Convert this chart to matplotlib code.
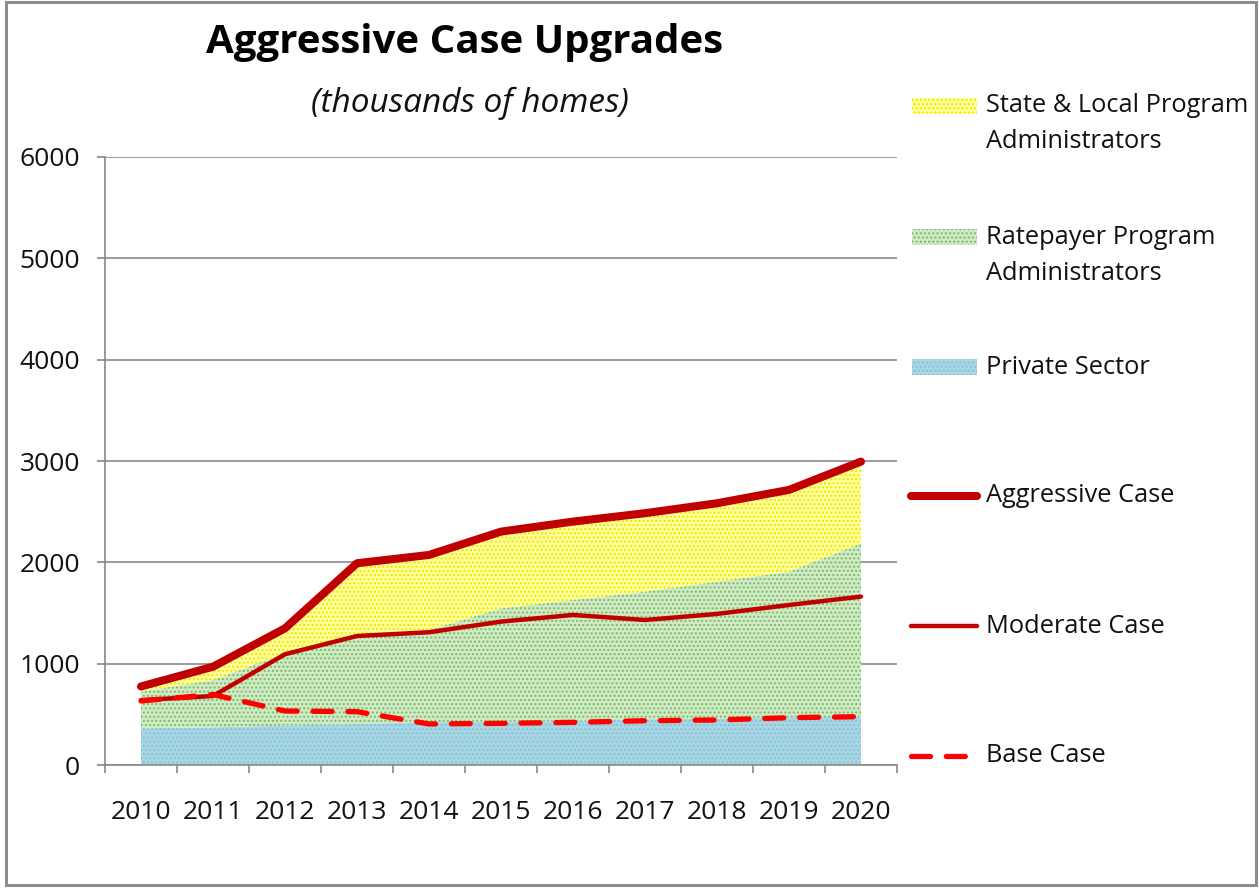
import numpy as np
import matplotlib
matplotlib.use("Agg")
import matplotlib.pyplot as plt
from matplotlib.patches import Rectangle
from matplotlib.lines import Line2D

plt.rcParams['font.family'] = ['Open Sans', 'DejaVu Sans']
plt.rcParams['hatch.linewidth'] = 1.0

# data (thousands of homes)
years = ['2010', '2011', '2012', '2013', '2014', '2015', '2016', '2017', '2018', '2019', '2020']
private = [362, 372, 388, 405, 421, 428, 434, 451, 457, 471, 477]
ratepayer = [362, 467, 715, 878, 912, 1119, 1195, 1260, 1353, 1437, 1711]
state_local = [51, 131, 246, 708, 740, 756, 773, 774, 773, 807, 806]
aggressive = [775, 970, 1349, 1991, 2073, 2303, 2402, 2485, 2583, 2715, 2994]
moderate = [640, 681, 1093, 1273, 1310, 1415, 1481, 1431, 1491, 1579, 1662]
base = [632, 695, 533, 526, 405, 411, 421, 437, 444, 467, 477]
yticks = [0, 1000, 2000, 3000, 4000, 5000, 6000]

W, H = 1259, 888
fig = plt.figure(figsize=(W / 100, H / 100), dpi=100)


def fx(x):
    return x / W


def fy(y):
    return 1 - y / H


ax = fig.add_axes([fx(105), fy(765), fx(897) - fx(105), fy(157) - fy(765)])

x = np.arange(len(years))
p = np.array(private)
r = p + np.array(ratepayer)
s = r + np.array(state_local)

# stacked hatched areas
blue_face, blue_dot = '#a8d6e4', '#86c2d6'
green_face, green_dot = '#d2eac6', '#74bd64'
yellow_face, yellow_dot = '#ffff9c', '#eee600'
ax.fill_between(x, 0, p, facecolor=blue_face, edgecolor=blue_dot, hatch='....', lw=0, zorder=2)
ax.fill_between(x, p, r, facecolor=green_face, edgecolor=green_dot, hatch='....', lw=0, zorder=2)
ax.fill_between(x, r, s, facecolor=yellow_face, edgecolor=yellow_dot, hatch='....', lw=0, zorder=2)

# scenario lines
agg_style = dict(color='#c00000', lw=5.8, solid_capstyle='round')
mod_style = dict(color='#c00000', lw=3.2, solid_capstyle='round')
base_style = dict(color='#ff0000', lw=3.8, dashes=(3.6, 3.0), dash_capstyle='round')
ax.plot(x, moderate, zorder=4, **mod_style)
ax.plot(x, base, zorder=5, **base_style)
ax.plot(x, aggressive, zorder=6, **agg_style)

ax.set_xlim(-0.5, len(years) - 0.5)
ax.set_ylim(0, 6000)
ax.set_yticks(yticks)
ax.set_xticks(x)
ax.set_xticklabels(years)
ax.set_xticks(np.arange(len(years) + 1) - 0.5, minor=True)
ax.tick_params(axis='x', which='major', length=0, pad=25, labelsize=19, labelcolor='#111111')
ax.tick_params(axis='x', which='minor', length=6, width=1.2, color='#888888', direction='out')
ax.tick_params(axis='y', length=6, width=1.2, color='#888888', pad=12, labelsize=19, labelcolor='#111111')

ax.set_axisbelow(True)
ax.grid(axis='y', color='#8a8a8a', lw=1.2)
for side in ['top', 'right']:
    ax.spines[side].set_visible(False)
for side in ['left', 'bottom']:
    ax.spines[side].set_color('#888888')
    ax.spines[side].set_linewidth(1.2)

# titles
fig.text(fx(465), fy(43), 'Aggressive Case Upgrades', ha='center', va='center',
         fontsize=29, fontweight='bold', color='#000000')
fig.text(fx(470), fy(103), '(thousands of homes)', ha='center', va='center',
         fontsize=24, style='italic', color='#111111')

# legend drawn at the right
leg_font = 18.3
patch_rows = [
    (106, yellow_face, yellow_dot, ['State & Local Program', 'Administrators']),
    (237, green_face, green_dot, ['Ratepayer Program', 'Administrators']),
    (367, blue_face, blue_dot, ['Private Sector']),
]
for yc, face, dot, lines in patch_rows:
    fig.add_artist(Rectangle((fx(912), fy(yc + 8)), fx(977) - fx(912), 16 / H,
                             facecolor=face, edgecolor=dot, hatch='....', lw=0,
                             transform=fig.transFigure))
    for i, t in enumerate(lines):
        fig.text(fx(986), fy(yc + i * 36), t, ha='left', va='center',
                 fontsize=leg_font, color='#111111')

line_rows = [
    (496, agg_style, 'Aggressive Case'),
    (626, mod_style, 'Moderate Case'),
    (756, base_style, 'Base Case'),
]
for yc, style, label in line_rows:
    fig.add_artist(Line2D([fx(911), fx(977)], [fy(yc), fy(yc)],
                          transform=fig.transFigure, **style))
    fig.text(fx(986), fy(yc), label, ha='left', va='center',
             fontsize=leg_font, color='#111111')

# outer frame
fig.add_artist(Rectangle((fx(6), fy(885)), fx(1256) - fx(6), (885 - 2) / H,
                         fill=False, edgecolor='#8c8c8c', lw=2.2,
                         transform=fig.transFigure))

fig.savefig('out.png', dpi=100)
